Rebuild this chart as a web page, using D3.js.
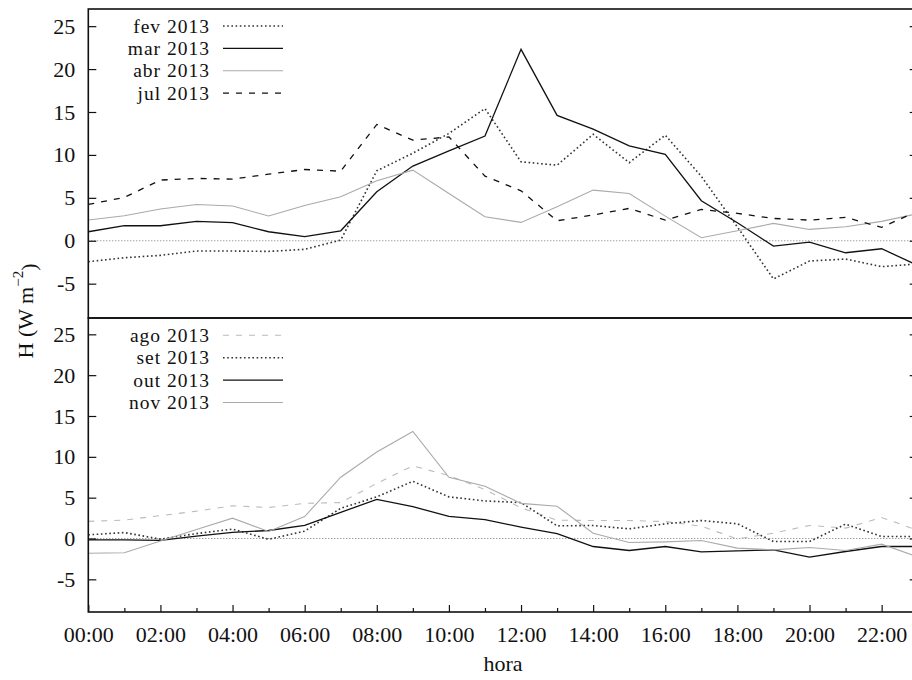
<!DOCTYPE html>
<html>
<head>
<meta charset="utf-8">
<script src="https://cdn.jsdelivr.net/npm/d3@7"></script>
<style>
  html, body { margin: 0; padding: 0; background: #fff; }
  svg { display: block; }
  svg text { font-family: "Liberation Serif", "Times New Roman", Times, "DejaVu Serif", serif; fill: #111; }
</style>
</head>
<body>
<svg id="chart" width="912" height="680"></svg>
<script>
// ---- data (hourly means, W m-2) ----
const hours = d3.range(0, 24);
const xTickLabels = ["00:00","02:00","04:00","06:00","08:00","10:00","12:00","14:00","16:00","18:00","20:00","22:00"];
const yTicks = [-5, 0, 5, 10, 15, 20, 25];

const topNames = ["fev 2013", "mar 2013", "abr 2013", "jul 2013"];
const fev = [-2.44,-1.98,-1.7,-1.2,-1.2,-1.24,-1.0,0.08,8.15,10.2,12.5,15.4,9.2,8.8,12.4,9.1,12.3,7.5,1.6,-4.45,-2.36,-2.13,-3.02,-2.7];
const mar = [1.05,1.75,1.75,2.26,2.1,1.05,0.47,1.16,5.7,8.7,10.48,12.2,22.3,14.6,13.0,11.06,10.06,4.66,2.1,-0.62,-0.15,-1.4,-0.93,-2.87];
const abr = [2.41,2.91,3.69,4.23,4.04,2.88,4.1,5.12,7.0,8.23,5.5,2.8,2.14,3.96,5.9,5.5,2.87,0.35,1.17,2.02,1.32,1.63,2.26,3.15];
const jul = [4.23,5.05,7.07,7.26,7.18,7.76,8.3,8.1,13.55,11.72,12.1,7.53,5.82,2.33,3.0,3.77,2.4,3.65,3.19,2.6,2.4,2.72,1.56,3.46];

const botNames = ["ago 2013", "set 2013", "out 2013", "nov 2013"];
const ago = [2.1,2.25,2.8,3.35,4.0,3.8,4.3,4.4,6.75,8.9,7.7,6.0,3.75,2.25,2.2,2.2,2.08,1.5,-0.05,0.65,1.6,1.27,2.57,1.0];
const set = [0.45,0.73,-0.08,0.6,1.15,-0.1,0.9,3.7,5.1,7.0,5.1,4.6,4.4,1.55,1.59,1.18,1.8,2.2,1.8,-0.37,-0.37,1.76,0.24,0.24];
const out = [-0.16,-0.16,-0.24,0.3,0.75,0.98,1.6,3.2,4.8,3.9,2.7,2.3,1.4,0.6,-0.98,-1.47,-0.98,-1.63,-1.51,-1.39,-2.29,-1.59,-0.98,-0.98];
const nov = [-1.8,-1.75,-0.3,1.1,2.49,0.86,2.69,7.5,10.6,13.1,7.5,6.4,4.3,3.95,0.65,-0.49,-0.41,-0.24,-1.18,-1.39,-1.1,-1.47,-0.69,-2.24];

// ---- styles ----
const styles = {
  dotted: { stroke: "#333", width: 1.6, dash: "1.6,2.6" },
  solidBlack: { stroke: "#111", width: 1.3, dash: null },
  solidGray: { stroke: "#aaa", width: 1.1, dash: null },
  dashedBlack: { stroke: "#111", width: 1.3, dash: "6,7" },
  dashedGray: { stroke: "#bbb", width: 1.1, dash: "6,7" }
};
const FONT = '"Liberation Serif", "Times New Roman", Times, "DejaVu Serif", serif';
const FS = 22;
const LEG_FS = 19.5;

const svg = d3.select("#chart");
const L = 88.3, R = 917.7;
const x = d3.scaleLinear().domain([0, 23]).range([L, R]);

const panels = [
  { top: 9, bottom: 318, names: topNames, series: [fev, mar, abr, jul],
    styles: [styles.dotted, styles.solidBlack, styles.solidGray, styles.dashedBlack],
    legendY: [26, 48.4, 70.8, 93.2], xAxis: false },
  { top: 318, bottom: 612, names: botNames, series: [ago, set, out, nov],
    styles: [styles.dashedGray, styles.dotted, styles.solidBlack, styles.solidGray],
    legendY: [335.3, 357.7, 380.1, 402.5], xAxis: true }
];

panels.forEach(p => {
  const y = d3.scaleLinear().domain([-9, 27]).range([p.bottom, p.top]);
  const g = svg.append("g");

  g.append("line")
    .attr("x1", L).attr("x2", R)
    .attr("y1", y(0)).attr("y2", y(0))
    .attr("stroke", "#777").attr("stroke-width", 1)
    .attr("stroke-dasharray", "1,2");

  const line = d3.line().x((d, i) => x(hours[i])).y(d => y(d));
  p.series.forEach((s, i) => {
    const st = p.styles[i];
    g.append("path").datum(s)
      .attr("d", line)
      .attr("fill", "none")
      .attr("stroke", st.stroke)
      .attr("stroke-width", st.width)
      .attr("stroke-linejoin", "miter")
      .attr("stroke-dasharray", st.dash);
  });

  const ax = g.append("g").attr("transform", `translate(${L},0)`)
    .call(d3.axisLeft(y).tickValues(yTicks).tickSize(-8).tickPadding(13)
      .tickFormat(d => String(d)));
  ax.attr("font-family", FONT).attr("font-size", FS);
  ax.select(".domain").remove();
  ax.selectAll("line").attr("stroke", "#111").attr("stroke-width", 1.2);
  ax.selectAll("text").attr("fill", "#111");

  const ar = g.append("g").attr("transform", `translate(${R},0)`)
    .call(d3.axisRight(y).tickValues(yTicks).tickSize(-8).tickFormat(""));
  ar.select(".domain").remove();
  ar.selectAll("line").attr("stroke", "#111").attr("stroke-width", 1.2);

  if (p.xAxis) {
    const major = d3.range(0, 24, 2);
    const axb = g.append("g").attr("transform", `translate(0,${p.bottom})`)
      .call(d3.axisBottom(x).tickValues(major).tickSize(-7).tickPadding(14)
        .tickFormat((d, i) => xTickLabels[i]));
    axb.attr("font-family", FONT).attr("font-size", FS);
    axb.select(".domain").remove();
    axb.selectAll("line").attr("stroke", "#111").attr("stroke-width", 1.2);
    axb.selectAll("text").attr("fill", "#111");
    const minor = d3.range(1, 24, 2);
    const axm = g.append("g").attr("transform", `translate(0,${p.bottom})`)
      .call(d3.axisBottom(x).tickValues(minor).tickSize(-4).tickFormat(""));
    axm.select(".domain").remove();
    axm.selectAll("line").attr("stroke", "#111").attr("stroke-width", 1.2);
  }

  g.append("rect")
    .attr("x", L).attr("y", p.top)
    .attr("width", R - L).attr("height", p.bottom - p.top)
    .attr("fill", "none").attr("stroke", "#111").attr("stroke-width", 1.6);

  p.names.forEach((n, i) => {
    const ly = p.legendY[i];
    const st = p.styles[i];
    g.append("text")
      .attr("x", 210).attr("y", ly)
      .attr("text-anchor", "end")
      .attr("dominant-baseline", "central")
      .attr("font-family", FONT)
      .attr("font-size", LEG_FS)
      .attr("letter-spacing", "1px")
      .text(n);
    g.append("line")
      .attr("x1", 223).attr("x2", 283)
      .attr("y1", ly).attr("y2", ly)
      .attr("stroke", st.stroke)
      .attr("stroke-width", st.width)
      .attr("stroke-dasharray", st.dash);
  });
});

const yl = svg.append("text")
  .attr("transform", "translate(25,311) rotate(-90)")
  .attr("text-anchor", "middle")
  .attr("dominant-baseline", "central")
  .attr("font-family", FONT)
  .attr("font-size", FS);
yl.append("tspan").text("H (W m");
yl.append("tspan").attr("dy", "-0.45em").attr("font-size", 15).text("−2");
yl.append("tspan").attr("dy", "0.45em").text(")");

svg.append("text")
  .attr("x", (L + R) / 2).attr("y", 671)
  .attr("text-anchor", "middle")
  .attr("font-family", FONT)
  .attr("font-size", FS)
  .text("hora");
</script>
</body>
</html>
